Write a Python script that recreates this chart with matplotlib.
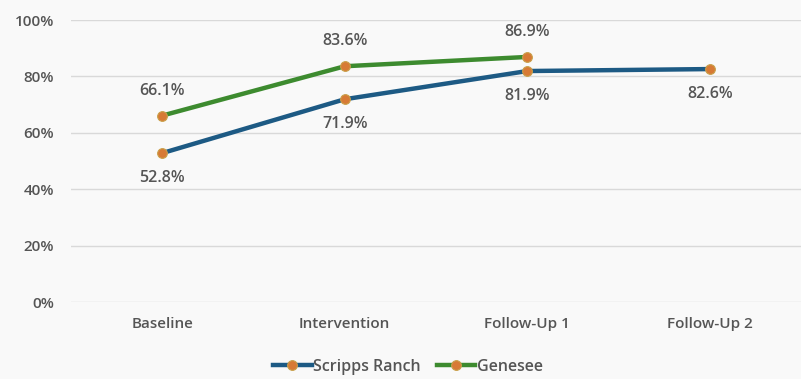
#Line chart: Scripps Ranch vs Genesee across study phases

#import modules
import matplotlib.pyplot as plt
from matplotlib.ticker import PercentFormatter

#Data
phases = ["Baseline", "Intervention", "Follow-Up 1", "Follow-Up 2"]
scripps = [52.8, 71.9, 81.9, 82.6]
genesee = [66.1, 83.6, 86.9]

#Colours
blue = "#1d5a84"
green = "#3d8b2f"
orange = "#d77a35"
grey = "#555555"

plt.rcParams['font.family'] = ['Open Sans', 'DejaVu Sans']
plt.rcParams['font.weight'] = 'semibold'

fig = plt.figure(figsize=(8.01, 3.79), dpi=100)
fig.patch.set_facecolor("#f9f9f9")
ax = fig.add_axes([71/801, 77/379, 730/801, 282/379])
ax.set_facecolor("#f9f9f9")

x_s = list(range(len(scripps)))
x_g = list(range(len(genesee)))

ax.plot(x_s, scripps, color=blue, linewidth=3.2, marker="o", markersize=7,
        markerfacecolor=orange, markeredgecolor="#c9a04a", markeredgewidth=0.8,
        label="Scripps Ranch", zorder=3)
ax.plot(x_g, genesee, color=green, linewidth=3.2, marker="o", markersize=7,
        markerfacecolor=orange, markeredgecolor="#c9a04a", markeredgewidth=0.8,
        label="Genesee", zorder=3)

#Data labels: Scripps below, Genesee above
for x, v in zip(x_s, scripps):
    ax.annotate(f"{v:.1f}%", (x, v), xytext=(0, -18), textcoords="offset points",
                ha="center", va="center", fontsize=11.5, color=grey)
for x, v in zip(x_g, genesee):
    ax.annotate(f"{v:.1f}%", (x, v), xytext=(0, 18), textcoords="offset points",
                ha="center", va="center", fontsize=11.5, color=grey)

#Axes
ax.set_xlim(-0.5, 3.5)
ax.set_ylim(0, 100)
ax.set_yticks([0, 20, 40, 60, 80, 100])
ax.yaxis.set_major_formatter(PercentFormatter(decimals=0))
ax.set_xticks(x_s)
ax.set_xticklabels(phases)
ax.tick_params(axis="both", length=0, colors=grey, labelsize=11)
ax.tick_params(axis="y", pad=12)
ax.tick_params(axis="x", pad=11)
ax.grid(axis="y", color="#d9d9d9", linewidth=1)
ax.set_axisbelow(True)
for s in ax.spines.values():
    s.set_visible(False)

leg = fig.legend(loc="center", bbox_to_anchor=(408/801, 1 - 367/379), ncol=2,
                 frameon=False, fontsize=11.5, handlelength=2.4, columnspacing=1.0,
                 handletextpad=0.1, borderaxespad=0)
for t in leg.get_texts():
    t.set_color(grey)

fig.savefig("out.png", dpi=100, facecolor=fig.get_facecolor())
